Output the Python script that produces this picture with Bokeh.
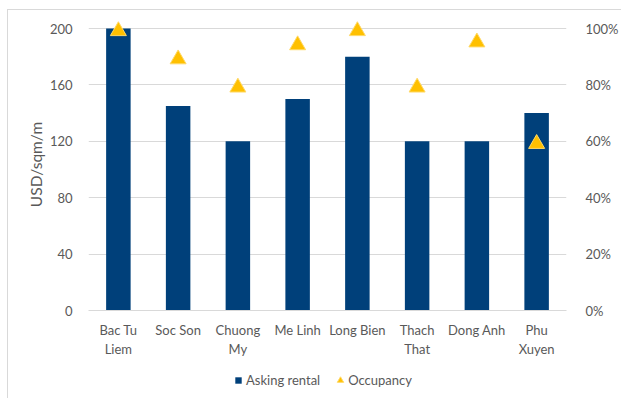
from bokeh.plotting import figure
from bokeh.layouts import column
from bokeh.models import (ColumnDataSource, Range1d, LinearAxis, FixedTicker,
                          NumeralTickFormatter, Legend, LegendItem, FactorRange)
from bokeh.embed import file_html
from bokeh.resources import INLINE

categories = ["Bac Tu Liem", "Soc Son", "Chuong My", "Me Linh",
              "Long Bien", "Thach That", "Dong Anh", "Phu Xuyen"]
tick_labels = ["Bac Tu\nLiem", "Soc Son", "Chuong\nMy", "Me Linh",
               "Long Bien", "Thach\nThat", "Dong Anh", "Phu\nXuyen"]
asking_rental = [200, 145, 120, 150, 180, 120, 120, 140]
occupancy = [1.00, 0.90, 0.80, 0.95, 1.00, 0.80, 0.96, 0.60]
left_ticks = [0, 40, 80, 120, 160, 200]
right_ticks = [0, 0.2, 0.4, 0.6, 0.8, 1.0]
series_names = ["Asking rental", "Occupancy"]

FONT = "Lato"
TXT = "#595959"
GRID = "#D9D9D9"
BAR = "#00407A"
TRI = "#FFC000"
TRI_LINE = "#FFD966"

# extra headroom above the top gridline so top markers are not clipped
pad = 292 / 282
# small downward shift so triangle markers are visually centred on their value
tri_shift = 2.5 / 282

src = ColumnDataSource(dict(cat=tick_labels, rent=asking_rental, occ=occupancy))

p = figure(width=613, height=350, x_range=FactorRange(factors=tick_labels),
           y_range=Range1d(0, max(left_ticks) * pad), output_backend="svg",
           toolbar_location=None,
           min_border_left=80, min_border_right=50, min_border_top=8,
           min_border_bottom=50)
p.outline_line_color = None
p.background_fill_color = "white"
p.border_fill_color = "white"

p.extra_y_ranges = {
    "occ": Range1d(0, max(right_ticks) * pad),
    "occ_marks": Range1d(tri_shift, max(right_ticks) * pad + tri_shift),
}

p.vbar(x="cat", top="rent", width=0.41, source=src,
       fill_color=BAR, line_color=None)
p.scatter(x="cat", y="occ", source=src, y_range_name="occ_marks",
          marker="triangle", size=16, fill_color=TRI,
          line_color=TRI_LINE, line_width=1)

p.yaxis.ticker = FixedTicker(ticks=left_ticks)
p.yaxis.axis_label = "USD/sqm/m"
p.yaxis.axis_label_text_font = FONT
p.yaxis.axis_label_text_font_style = "normal"
p.yaxis.axis_label_text_font_size = "15.5px"
p.yaxis.axis_label_text_color = TXT
p.yaxis.axis_label_standoff = 2
p.yaxis.major_label_standoff = 10

ra = LinearAxis(y_range_name="occ", ticker=FixedTicker(ticks=right_ticks),
                formatter=NumeralTickFormatter(format="0%"))
p.add_layout(ra, "right")
ra.major_label_standoff = 13

for ax in [p.yaxis[0], ra]:
    ax.axis_line_color = None
    ax.major_tick_line_color = None
    ax.minor_tick_line_color = None
    ax.major_label_text_font = FONT
    ax.major_label_text_font_size = "13px"
    ax.major_label_text_color = TXT

xa = p.xaxis[0]
xa.axis_line_color = GRID
xa.major_tick_line_color = None
xa.minor_tick_line_color = None
xa.major_label_text_font = FONT
xa.major_label_text_font_size = "13px"
xa.major_label_text_color = TXT
xa.major_label_standoff = 5

p.xgrid.grid_line_color = None
p.ygrid.grid_line_color = GRID
p.ygrid.ticker = FixedTicker(ticks=left_ticks)

# legend strip below the chart (dummy renderers sit outside the visible range)
q = figure(width=613, height=38, x_range=Range1d(0, 1), y_range=Range1d(0, 1),
           x_axis_type=None, y_axis_type=None, output_backend="svg",
           toolbar_location=None, min_border=0)
q.outline_line_color = None
q.grid.visible = False
dummy = ColumnDataSource(dict(x=[-10], y=[-10]))
lg_bar = q.scatter(x="x", y="y", source=dummy, marker="square",
                   fill_color=BAR, line_color=None)
lg_tri = q.scatter(x="x", y="y", source=dummy, marker="triangle",
                   fill_color=TRI, line_color=TRI_LINE)
legend = Legend(items=[LegendItem(label=series_names[0], renderers=[lg_bar]),
                       LegendItem(label=series_names[1], renderers=[lg_tri])],
                orientation="horizontal", location=(142, 10),
                label_text_font=FONT, label_text_font_size="13px",
                label_text_color=TXT, glyph_width=16, glyph_height=16,
                label_height=14, spacing=12, label_standoff=0,
                background_fill_alpha=0, border_line_color=None,
                padding=0, margin=0)
q.add_layout(legend, "center")

layout = column(p, q, spacing=0,
                styles={"margin-left": "7px", "margin-top": "9px",
                        "border-left": "1px solid #D9D9D9",
                        "border-top": "1px solid #D9D9D9"})

open("out.html", "w").write(file_html(layout, INLINE))
